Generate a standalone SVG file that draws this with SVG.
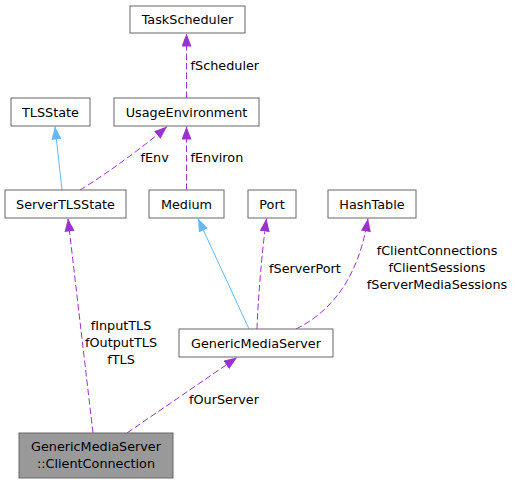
<svg xmlns="http://www.w3.org/2000/svg" width="515" height="483" viewBox="0 0 515 483">
<defs>
<style>
.box{fill:#ffffff;stroke:#666666;stroke-width:1}
.main{fill:#999999;stroke:#666666;stroke-width:1}
text{font-family:"DejaVu Sans","Liberation Sans",sans-serif;font-size:12.8px;fill:#000000}
.c{text-anchor:middle}
.dep{fill:none;stroke:#9a32cd;stroke-width:1;stroke-dasharray:6.5,3}
.inh{fill:none;stroke:#63b8ff;stroke-width:1}
</style>
<marker id="ap" markerUnits="userSpaceOnUse" markerWidth="14" markerHeight="11" refX="13" refY="5" orient="auto"><path d="M0,0 L13,5 L0,10 z" fill="#9a32cd"/></marker>
<marker id="ab" markerUnits="userSpaceOnUse" markerWidth="14" markerHeight="11" refX="13" refY="5" orient="auto"><path d="M0,0 L13,5 L0,10 z" fill="#63b8ff"/></marker>
</defs>
<g id="connectors">
<path class="dep" d="M186.5,98 L186.5,33.5" marker-end="url(#ap)"/>
<path class="inh" d="M62,190 L55,126.5" marker-end="url(#ab)"/>
<path class="dep" d="M80,190 C100,178 140,150 167,126.5" marker-end="url(#ap)"/>
<path class="dep" d="M186.5,190 L186.5,126.5" marker-end="url(#ap)"/>
<path class="inh" d="M249,329 L198,218.5" marker-end="url(#ab)"/>
<path class="dep" d="M257,329 C258,300 262,250 266.5,218.5" marker-end="url(#ap)"/>
<path class="dep" d="M296,329 C330,312 358,280 368,218.5" marker-end="url(#ap)"/>
<path class="dep" d="M93,433 L68,218.5" marker-end="url(#ap)"/>
<path class="dep" d="M127,433 L237,357.5" marker-end="url(#ap)"/>
<text x="190.5" y="69.5">fScheduler</text>
<text x="140.5" y="162">fEnv</text>
<text x="190.5" y="162">fEnviron</text>
<text x="269" y="272.5">fServerPort</text>
<text class="c" x="437" y="255">fClientConnections</text>
<text class="c" x="437" y="272">fClientSessions</text>
<text class="c" x="437" y="289">fServerMediaSessions</text>
<text class="c" x="121" y="330">fInputTLS</text>
<text class="c" x="121" y="347">fOutputTLS</text>
<text class="c" x="121" y="364">fTLS</text>
<text x="189" y="404">fOurServer</text>
</g>
<g id="TaskScheduler"><rect class="box" x="130" y="6" width="115" height="27"/><text class="c" x="187.5" y="24">TaskScheduler</text></g>
<g id="UsageEnvironment"><rect class="box" x="114" y="98" width="145" height="28"/><text class="c" x="186.5" y="116.5">UsageEnvironment</text></g>
<g id="TLSState"><rect class="box" x="11" y="98" width="79" height="28"/><text class="c" x="50.5" y="116.5">TLSState</text></g>
<g id="ServerTLSState"><rect class="box" x="5" y="190" width="121" height="28"/><text class="c" x="65.5" y="208.5">ServerTLSState</text></g>
<g id="Medium"><rect class="box" x="149" y="190" width="75" height="28"/><text class="c" x="186.5" y="208.5">Medium</text></g>
<g id="Port"><rect class="box" x="248" y="190" width="48" height="28"/><text class="c" x="272" y="208.5">Port</text></g>
<g id="HashTable"><rect class="box" x="328" y="190" width="88" height="28"/><text class="c" x="372" y="208.5">HashTable</text></g>
<g id="GenericMediaServer"><rect class="box" x="179" y="329" width="154" height="28"/><text class="c" x="256" y="347.5">GenericMediaServer</text></g>
<g id="ClientConnection"><rect class="main" x="19" y="433" width="154" height="45"/><text class="c" x="96" y="451">GenericMediaServer</text><text class="c" x="96" y="468">::ClientConnection</text></g>
</svg>
